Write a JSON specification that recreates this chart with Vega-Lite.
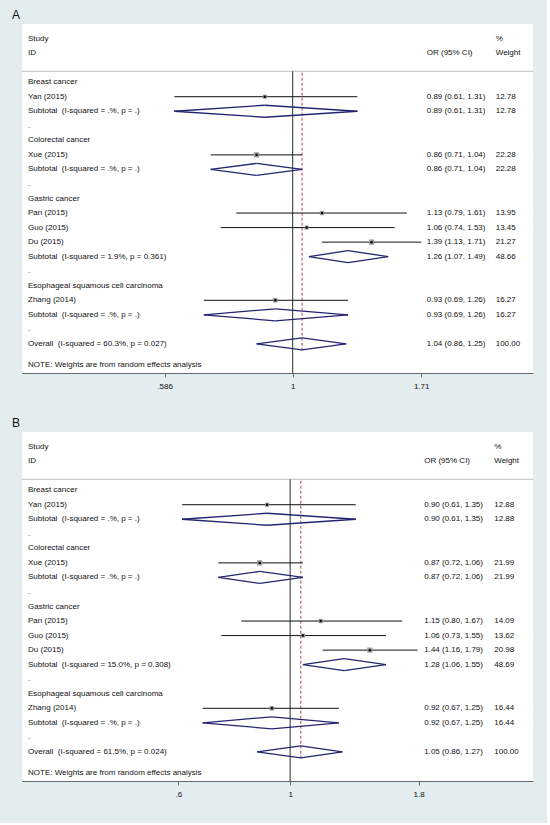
{
  "$schema": "https://vega.github.io/schema/vega-lite/v6.json",
  "background": "#e3ecee",
  "padding": {"left": 12, "top": 9, "right": 13, "bottom": 25},
  "spacing": 27,
  "config": {
    "font": "Liberation Sans",
    "view": {"fill": "white", "stroke": null},
    "text": {"fontSize": 8, "color": "#111111", "baseline": "middle", "align": "left"}
  },
  "datasets": {
    "A": [
      {"row": -2, "label": "Study", "wt": "%", "type": "header"},
      {"row": -1, "label": "ID", "est": "OR (95% CI)", "wt": "Weight", "type": "header"},
      {"row": 1, "label": "Breast cancer", "type": "group"},
      {"row": 2, "label": "Yan (2015)", "or": 0.89, "lci": 0.61, "uci": 1.31, "w": 12.78, "est": "0.89 (0.61, 1.31)", "wt": "12.78", "type": "study"},
      {"row": 3, "label": "Subtotal\u00a0 (I-squared = .%, p = .)", "or": 0.89, "lci": 0.61, "uci": 1.31, "w": 12.78, "est": "0.89 (0.61, 1.31)", "wt": "12.78", "type": "sub"},
      {"row": 4, "label": ".", "type": "gap"},
      {"row": 5, "label": "Colorectal cancer", "type": "group"},
      {"row": 6, "label": "Xue (2015)", "or": 0.86, "lci": 0.71, "uci": 1.04, "w": 22.28, "est": "0.86 (0.71, 1.04)", "wt": "22.28", "type": "study"},
      {"row": 7, "label": "Subtotal\u00a0 (I-squared = .%, p = .)", "or": 0.86, "lci": 0.71, "uci": 1.04, "w": 22.28, "est": "0.86 (0.71, 1.04)", "wt": "22.28", "type": "sub"},
      {"row": 8, "label": ".", "type": "gap"},
      {"row": 9, "label": "Gastric cancer", "type": "group"},
      {"row": 10, "label": "Pan (2015)", "or": 1.13, "lci": 0.79, "uci": 1.61, "w": 13.95, "est": "1.13 (0.79, 1.61)", "wt": "13.95", "type": "study"},
      {"row": 11, "label": "Guo (2015)", "or": 1.06, "lci": 0.74, "uci": 1.53, "w": 13.45, "est": "1.06 (0.74, 1.53)", "wt": "13.45", "type": "study"},
      {"row": 12, "label": "Du (2015)", "or": 1.39, "lci": 1.13, "uci": 1.71, "w": 21.27, "est": "1.39 (1.13, 1.71)", "wt": "21.27", "type": "study"},
      {"row": 13, "label": "Subtotal\u00a0 (I-squared = 1.9%, p = 0.361)", "or": 1.26, "lci": 1.07, "uci": 1.49, "w": 48.66, "est": "1.26 (1.07, 1.49)", "wt": "48.66", "type": "sub"},
      {"row": 14, "label": ".", "type": "gap"},
      {"row": 15, "label": "Esophageal squamous cell carcinoma", "type": "group"},
      {"row": 16, "label": "Zhang (2014)", "or": 0.93, "lci": 0.69, "uci": 1.26, "w": 16.27, "est": "0.93 (0.69, 1.26)", "wt": "16.27", "type": "study"},
      {"row": 17, "label": "Subtotal\u00a0 (I-squared = .%, p = .)", "or": 0.93, "lci": 0.69, "uci": 1.26, "w": 16.27, "est": "0.93 (0.69, 1.26)", "wt": "16.27", "type": "sub"},
      {"row": 18, "label": ".", "type": "gap"},
      {"row": 19, "label": "Overall\u00a0 (I-squared = 60.3%, p = 0.027)", "or": 1.04, "lci": 0.86, "uci": 1.25, "w": 100, "est": "1.04 (0.86, 1.25)", "wt": "100.00", "type": "overall"},
      {"row": 20, "label": "NOTE: Weights are from random effects analysis", "type": "note"}
    ],
    "B": [
      {"row": -2, "label": "Study", "wt": "%", "type": "header"},
      {"row": -1, "label": "ID", "est": "OR (95% CI)", "wt": "Weight", "type": "header"},
      {"row": 1, "label": "Breast cancer", "type": "group"},
      {"row": 2, "label": "Yan (2015)", "or": 0.90, "lci": 0.61, "uci": 1.35, "w": 12.88, "est": "0.90 (0.61, 1.35)", "wt": "12.88", "type": "study"},
      {"row": 3, "label": "Subtotal\u00a0 (I-squared = .%, p = .)", "or": 0.90, "lci": 0.61, "uci": 1.35, "w": 12.88, "est": "0.90 (0.61, 1.35)", "wt": "12.88", "type": "sub"},
      {"row": 4, "label": ".", "type": "gap"},
      {"row": 5, "label": "Colorectal cancer", "type": "group"},
      {"row": 6, "label": "Xue (2015)", "or": 0.87, "lci": 0.72, "uci": 1.06, "w": 21.99, "est": "0.87 (0.72, 1.06)", "wt": "21.99", "type": "study"},
      {"row": 7, "label": "Subtotal\u00a0 (I-squared = .%, p = .)", "or": 0.87, "lci": 0.72, "uci": 1.06, "w": 21.99, "est": "0.87 (0.72, 1.06)", "wt": "21.99", "type": "sub"},
      {"row": 8, "label": ".", "type": "gap"},
      {"row": 9, "label": "Gastric cancer", "type": "group"},
      {"row": 10, "label": "Pan (2015)", "or": 1.15, "lci": 0.80, "uci": 1.67, "w": 14.09, "est": "1.15 (0.80, 1.67)", "wt": "14.09", "type": "study"},
      {"row": 11, "label": "Guo (2015)", "or": 1.06, "lci": 0.73, "uci": 1.55, "w": 13.62, "est": "1.06 (0.73, 1.55)", "wt": "13.62", "type": "study"},
      {"row": 12, "label": "Du (2015)", "or": 1.44, "lci": 1.16, "uci": 1.79, "w": 20.98, "est": "1.44 (1.16, 1.79)", "wt": "20.98", "type": "study"},
      {"row": 13, "label": "Subtotal\u00a0 (I-squared = 15.0%, p = 0.308)", "or": 1.28, "lci": 1.06, "uci": 1.55, "w": 48.69, "est": "1.28 (1.06, 1.55)", "wt": "48.69", "type": "sub"},
      {"row": 14, "label": ".", "type": "gap"},
      {"row": 15, "label": "Esophageal squamous cell carcinoma", "type": "group"},
      {"row": 16, "label": "Zhang (2014)", "or": 0.92, "lci": 0.67, "uci": 1.25, "w": 16.44, "est": "0.92 (0.67, 1.25)", "wt": "16.44", "type": "study"},
      {"row": 17, "label": "Subtotal\u00a0 (I-squared = .%, p = .)", "or": 0.92, "lci": 0.67, "uci": 1.25, "w": 16.44, "est": "0.92 (0.67, 1.25)", "wt": "16.44", "type": "sub"},
      {"row": 18, "label": ".", "type": "gap"},
      {"row": 19, "label": "Overall\u00a0 (I-squared = 61.5%, p = 0.024)", "or": 1.05, "lci": 0.86, "uci": 1.27, "w": 100, "est": "1.05 (0.86, 1.27)", "wt": "100.00", "type": "overall"},
      {"row": 20, "label": "NOTE: Weights are from random effects analysis", "type": "note"}
    ]
  },
  "vconcat": [
    {
      "title": {"text": "A", "anchor": "start", "frame": "group", "dx": -10, "fontSize": 12, "fontWeight": "normal", "color": "#111111", "offset": 2},
      "width": 511,
      "height": 349,
      "data": {"name": "A"},
      "layer": [
        {
          "transform": [{"filter": "datum.type == 'overall'"}],
          "mark": {"type": "rule", "color": "#bdbdbd", "strokeWidth": 1},
          "encoding": {"y": {"datum": 0.25, "type": "quantitative", "scale": {"domain": [-3, 21], "reverse": true, "nice": false, "zero": false}, "axis": null}}
        },
        {
          "transform": [{"filter": "datum.type == 'overall'"}],
          "mark": {"type": "rule", "color": "#2a2a2a", "strokeWidth": 1},
          "encoding": {
            "x": {"datum": 1, "type": "quantitative"},
            "y": {"datum": 0.25, "type": "quantitative"},
            "y2": {"datum": 21}
          }
        },
        {
          "transform": [{"filter": "datum.type == 'overall'"}],
          "mark": {"type": "rule", "color": "#b5444f", "strokeWidth": 1, "strokeDash": [3, 2]},
          "encoding": {
            "x": {"field": "or", "type": "quantitative", "title": null},
            "y": {"datum": 0.35, "type": "quantitative"},
            "y2": {"datum": 19.45}
          }
        },
        {
          "transform": [{"filter": "datum.type == 'study'"}],
          "mark": {"type": "rule", "color": "#111111", "strokeWidth": 1},
          "encoding": {
            "x": {"field": "lci", "type": "quantitative", "title": null,
              "scale": {"type": "log", "domain": [0.323, 2.727], "nice": false},
              "axis": {"values": [0.586, 1, 1.71], "labelExpr": "replace(format(datum.value, '~g'), '0.', '.')", "title": null, "grid": false, "tickSize": 4, "tickColor": "#666666", "domainColor": "#666666", "domainWidth": 1.2, "labelFontSize": 8, "labelColor": "#111111", "labelPadding": 5}},
            "x2": {"field": "uci"},
            "y": {"field": "row", "type": "quantitative"}
          }
        },
        {
          "transform": [{"filter": "datum.type == 'sub' || datum.type == 'overall'"}],
          "mark": {"type": "rule", "color": "#242470", "strokeWidth": 1.3, "y2Offset": -6},
          "encoding": {"x": {"field": "lci", "type": "quantitative", "title": null}, "x2": {"field": "or"}, "y": {"field": "row", "type": "quantitative"}, "y2": {"field": "row"}}
        },
        {
          "transform": [{"filter": "datum.type == 'sub' || datum.type == 'overall'"}],
          "mark": {"type": "rule", "color": "#242470", "strokeWidth": 1.3, "y2Offset": 6},
          "encoding": {"x": {"field": "lci", "type": "quantitative", "title": null}, "x2": {"field": "or"}, "y": {"field": "row", "type": "quantitative"}, "y2": {"field": "row"}}
        },
        {
          "transform": [{"filter": "datum.type == 'sub' || datum.type == 'overall'"}],
          "mark": {"type": "rule", "color": "#242470", "strokeWidth": 1.3, "yOffset": -6},
          "encoding": {"x": {"field": "or", "type": "quantitative", "title": null}, "x2": {"field": "uci"}, "y": {"field": "row", "type": "quantitative"}, "y2": {"field": "row"}}
        },
        {
          "transform": [{"filter": "datum.type == 'sub' || datum.type == 'overall'"}],
          "mark": {"type": "rule", "color": "#242470", "strokeWidth": 1.3, "yOffset": 6},
          "encoding": {"x": {"field": "or", "type": "quantitative", "title": null}, "x2": {"field": "uci"}, "y": {"field": "row", "type": "quantitative"}, "y2": {"field": "row"}}
        },
        {
          "transform": [{"filter": "datum.type == 'study'"}],
          "mark": {"type": "point", "shape": "square", "filled": true, "color": "#9a9a9a", "opacity": 1},
          "encoding": {
            "x": {"field": "or", "type": "quantitative", "title": null},
            "y": {"field": "row", "type": "quantitative"},
            "size": {"field": "w", "type": "quantitative", "scale": {"domain": [0, 25], "range": [0, 32]}, "legend": null}
          }
        },
        {
          "transform": [{"filter": "datum.type == 'study'"}],
          "mark": {"type": "point", "shape": "circle", "filled": true, "color": "#000000", "size": 6, "opacity": 1},
          "encoding": {"x": {"field": "or", "type": "quantitative", "title": null}, "y": {"field": "row", "type": "quantitative"}}
        },
        {
          "transform": [{"filter": "datum.type != 'note'"}],
          "mark": {"type": "text"},
          "encoding": {"x": {"datum": 0.3312, "type": "quantitative"}, "y": {"field": "row", "type": "quantitative"}, "text": {"field": "label"}}
        },
        {
          "transform": [{"filter": "datum.type == 'note'"}],
          "mark": {"type": "text", "dy": 6.5},
          "encoding": {"x": {"datum": 0.3312, "type": "quantitative"}, "y": {"field": "row", "type": "quantitative"}, "text": {"field": "label"}}
        },
        {
          "transform": [{"filter": "isValid(datum.est)"}],
          "mark": {"type": "text"},
          "encoding": {"x": {"datum": 1.75, "type": "quantitative"}, "y": {"field": "row", "type": "quantitative"}, "text": {"field": "est"}}
        },
        {
          "transform": [{"filter": "isValid(datum.wt)"}],
          "mark": {"type": "text"},
          "encoding": {"x": {"datum": 2.334, "type": "quantitative"}, "y": {"field": "row", "type": "quantitative"}, "text": {"field": "wt"}}
        }
      ]
    },
    {
      "title": {"text": "B", "anchor": "start", "frame": "group", "dx": -10, "fontSize": 12, "fontWeight": "normal", "color": "#111111", "offset": 2},
      "width": 511,
      "height": 349,
      "data": {"name": "B"},
      "layer": [
        {
          "transform": [{"filter": "datum.type == 'overall'"}],
          "mark": {"type": "rule", "color": "#bdbdbd", "strokeWidth": 1},
          "encoding": {"y": {"datum": 0.25, "type": "quantitative", "scale": {"domain": [-3, 21], "reverse": true, "nice": false, "zero": false}, "axis": null}}
        },
        {
          "transform": [{"filter": "datum.type == 'overall'"}],
          "mark": {"type": "rule", "color": "#2a2a2a", "strokeWidth": 1},
          "encoding": {
            "x": {"datum": 1, "type": "quantitative"},
            "y": {"datum": 0.25, "type": "quantitative"},
            "y2": {"datum": 21}
          }
        },
        {
          "transform": [{"filter": "datum.type == 'overall'"}],
          "mark": {"type": "rule", "color": "#b5444f", "strokeWidth": 1, "strokeDash": [3, 2]},
          "encoding": {
            "x": {"field": "or", "type": "quantitative", "title": null},
            "y": {"datum": 0.35, "type": "quantitative"},
            "y2": {"datum": 19.45}
          }
        },
        {
          "transform": [{"filter": "datum.type == 'study'"}],
          "mark": {"type": "rule", "color": "#111111", "strokeWidth": 1},
          "encoding": {
            "x": {"field": "lci", "type": "quantitative", "title": null,
              "scale": {"type": "log", "domain": [0.2933, 3.037], "nice": false},
              "axis": {"values": [0.6, 1, 1.8], "labelExpr": "replace(format(datum.value, '~g'), '0.', '.')", "title": null, "grid": false, "tickSize": 4, "tickColor": "#666666", "domainColor": "#666666", "domainWidth": 1.2, "labelFontSize": 8, "labelColor": "#111111", "labelPadding": 5}},
            "x2": {"field": "uci"},
            "y": {"field": "row", "type": "quantitative"}
          }
        },
        {
          "transform": [{"filter": "datum.type == 'sub' || datum.type == 'overall'"}],
          "mark": {"type": "rule", "color": "#242470", "strokeWidth": 1.3, "y2Offset": -6},
          "encoding": {"x": {"field": "lci", "type": "quantitative", "title": null}, "x2": {"field": "or"}, "y": {"field": "row", "type": "quantitative"}, "y2": {"field": "row"}}
        },
        {
          "transform": [{"filter": "datum.type == 'sub' || datum.type == 'overall'"}],
          "mark": {"type": "rule", "color": "#242470", "strokeWidth": 1.3, "y2Offset": 6},
          "encoding": {"x": {"field": "lci", "type": "quantitative", "title": null}, "x2": {"field": "or"}, "y": {"field": "row", "type": "quantitative"}, "y2": {"field": "row"}}
        },
        {
          "transform": [{"filter": "datum.type == 'sub' || datum.type == 'overall'"}],
          "mark": {"type": "rule", "color": "#242470", "strokeWidth": 1.3, "yOffset": -6},
          "encoding": {"x": {"field": "or", "type": "quantitative", "title": null}, "x2": {"field": "uci"}, "y": {"field": "row", "type": "quantitative"}, "y2": {"field": "row"}}
        },
        {
          "transform": [{"filter": "datum.type == 'sub' || datum.type == 'overall'"}],
          "mark": {"type": "rule", "color": "#242470", "strokeWidth": 1.3, "yOffset": 6},
          "encoding": {"x": {"field": "or", "type": "quantitative", "title": null}, "x2": {"field": "uci"}, "y": {"field": "row", "type": "quantitative"}, "y2": {"field": "row"}}
        },
        {
          "transform": [{"filter": "datum.type == 'study'"}],
          "mark": {"type": "point", "shape": "square", "filled": true, "color": "#9a9a9a", "opacity": 1},
          "encoding": {
            "x": {"field": "or", "type": "quantitative", "title": null},
            "y": {"field": "row", "type": "quantitative"},
            "size": {"field": "w", "type": "quantitative", "scale": {"domain": [0, 25], "range": [0, 32]}, "legend": null}
          }
        },
        {
          "transform": [{"filter": "datum.type == 'study'"}],
          "mark": {"type": "point", "shape": "circle", "filled": true, "color": "#000000", "size": 6, "opacity": 1},
          "encoding": {"x": {"field": "or", "type": "quantitative", "title": null}, "y": {"field": "row", "type": "quantitative"}}
        },
        {
          "transform": [{"filter": "datum.type != 'note'"}],
          "mark": {"type": "text"},
          "encoding": {"x": {"datum": 0.3015, "type": "quantitative"}, "y": {"field": "row", "type": "quantitative"}, "text": {"field": "label"}}
        },
        {
          "transform": [{"filter": "datum.type == 'note'"}],
          "mark": {"type": "text", "dy": 6.5},
          "encoding": {"x": {"datum": 0.3015, "type": "quantitative"}, "y": {"field": "row", "type": "quantitative"}, "text": {"field": "label"}}
        },
        {
          "transform": [{"filter": "isValid(datum.est)"}],
          "mark": {"type": "text"},
          "encoding": {"x": {"datum": 1.8466, "type": "quantitative"}, "y": {"field": "row", "type": "quantitative"}, "text": {"field": "est"}}
        },
        {
          "transform": [{"filter": "isValid(datum.wt)"}],
          "mark": {"type": "text"},
          "encoding": {"x": {"datum": 2.5437, "type": "quantitative"}, "y": {"field": "row", "type": "quantitative"}, "text": {"field": "wt"}}
        }
      ]
    }
  ]
}
